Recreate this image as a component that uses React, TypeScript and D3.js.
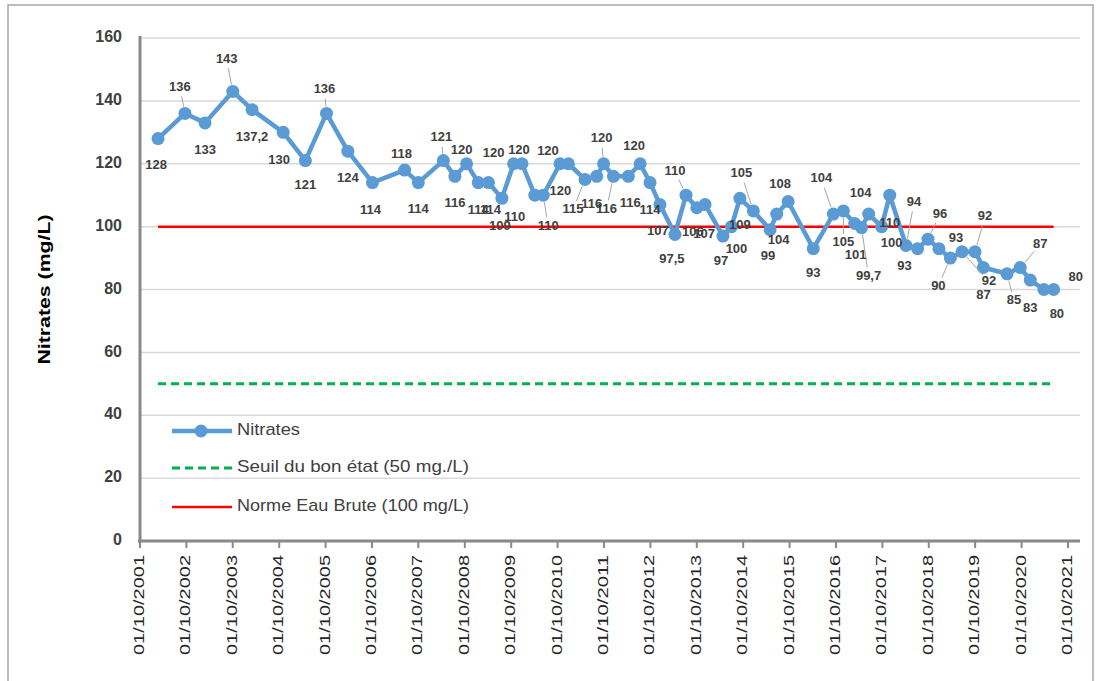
import React from 'react';
import * as d3 from 'd3';

// sampling dates (yyyy-mm-dd) and nitrate values
const dates = [
  '2002-02-20', '2002-09-20', '2003-02-25', '2003-10-01', '2004-03-01', '2004-11-01', '2005-04-25', '2005-10-08',
  '2006-03-25', '2006-10-05', '2007-06-15', '2007-10-01', '2008-04-15', '2008-07-15', '2008-10-15', '2009-01-15',
  '2009-04-05', '2009-07-20', '2009-10-20', '2009-12-25', '2010-04-05', '2010-06-10', '2010-10-20', '2010-12-25',
  '2011-05-05', '2011-08-05', '2011-09-28', '2011-12-15', '2012-04-10', '2012-07-12', '2012-09-28', '2012-12-15',
  '2013-04-12', '2013-07-08', '2013-10-01', '2013-12-05', '2014-04-25', '2014-07-01', '2014-09-05', '2014-12-20',
  '2015-05-01', '2015-06-22', '2015-09-20', '2016-04-05', '2016-09-10', '2016-11-28', '2017-02-25', '2017-04-20',
  '2017-06-15', '2017-09-25', '2017-11-28', '2018-04-05', '2018-07-05', '2018-09-25', '2018-12-20', '2019-03-20',
  '2019-06-20', '2019-09-30', '2019-12-05', '2020-06-08', '2020-09-20', '2020-12-08', '2021-03-25', '2021-06-10',
];

const nitrates = [
  128, 136, 133, 143, 137.2, 130, 121, 136,
  124, 114, 118, 114, 121, 116, 120, 114,
  114, 109, 120, 120, 110, 110, 120, 120,
  115, 116, 120, 116, 116, 120, 114, 107,
  97.5, 110, 106, 107, 97, 100, 109, 105,
  99, 104, 108, 93, 104, 105, 101, 99.7,
  104, 100, 110, 94, 93, 96, 93, 90,
  92, 92, 87, 85, 87, 83, 80, 80,
];

const seuilBonEtat = 50;
const normeEauBrute = 100;

const yTicks = [0, 20, 40, 60, 80, 100, 120, 140, 160];
const xTickYears = d3.range(2001, 2022);

// where each data label sits relative to its point (as moved by hand in the original)
const labelOffsets: [number, number][] = [
  [-2, 27], [-5, -26], [0, 28], [-6, -32], [0, 28], [-4, 28], [0, 25], [-2, -24],
  [0, 27], [-2, 28], [-3, -15], [0, 27], [-2, -23], [0, 27], [-5, -13], [0, 28],
  [2, 28], [-2, 28], [-20, -10], [-3, -13], [-20, 22], [5, 31], [-12, -12], [-8, 28],
  [-12, 30], [-5, 28], [-2, -25], [-7, 33], [2, 27], [-6, -17], [0, 28], [-2, 27],
  [-3, 25], [-11, -24], [-4, 25], [-1, 30], [-2, 26], [5, 23], [0, 27], [-12, -37],
  [-2, 27], [2, 27], [-8, -17], [0, 25], [-12, -35], [0, 32], [1, 32], [7, 49],
  [-8, -20], [10, 17], [0, 28], [8, -43], [-13, 18], [12, -25], [17, -10], [-12, 28],
  [27, 30], [10, -35], [0, 28], [7, 27], [20, -23], [0, 28], [13, 25], [22, -12],
];
const leaders = [1, 3, 7, 12, 21, 24, 26, 27, 33, 39, 44, 45, 47, 51, 53, 55, 56, 57, 59, 60];

const parse = d3.timeParse('%Y-%m-%d');

const App: React.FC = () => {
  const width = 1101;
  const height = 681;
  const left = 140;
  const plotRight = 1080;

  const x = d3.scaleTime()
    .domain([new Date(2001, 9, 1), new Date(2021, 9, 1)])
    .range([left, 1068]);
  const y = d3.scaleLinear().domain([0, 160]).range([541, 38]);

  const points = dates.map((d, i) => ({ date: parse(d) as Date, value: nitrates[i] }));
  const first = points[0].date;
  const last = points[points.length - 1].date;

  const line = d3.line<{ date: Date; value: number }>()
    .x(d => x(d.date))
    .y(d => y(d.value));

  const fmt = (v: number) => String(v).replace('.', ',');
  const font = '"Liberation Sans", Arial, sans-serif';

  return (
    <svg width={width} height={height} style={{ position: 'absolute', left: 0, top: 0, background: '#fff' }} fontFamily={font}>
      <rect x={8} y={5} width={1085} height={700} fill="#fff" stroke="#a6a6a6" strokeWidth={1.5} />

      {/* grid */}
      {yTicks.filter(t => t > 0).map(t => (
        <line key={t} x1={left} x2={plotRight} y1={y(t)} y2={y(t)} stroke="#d9d9d9" strokeWidth={1.5} />
      ))}

      {/* y tick labels */}
      {yTicks.map(t => (
        <text key={t} x={122} y={y(t)} textAnchor="end" dominantBaseline="middle" fontSize={16} fontWeight="bold" fill="#404040">
          {t}
        </text>
      ))}
      <text transform={`translate(46,${y(80)}) rotate(-90)`} textAnchor="middle" dominantBaseline="middle" fontSize={16} fontWeight="bold" fill="#000" textLength={150} lengthAdjust="spacingAndGlyphs">
        Nitrates (mg/L)
      </text>

      {/* reference lines */}
      <line x1={x(first)} x2={x(last)} y1={y(normeEauBrute)} y2={y(normeEauBrute)} stroke="#ff0000" strokeWidth={2.5} />
      <line x1={x(first)} x2={x(last)} y1={y(seuilBonEtat)} y2={y(seuilBonEtat)} stroke="#00b050" strokeWidth={3} strokeDasharray="8,5" />

      {/* axes */}
      <line x1={left} x2={left} y1={36} y2={543} stroke="#898989" strokeWidth={3} />
      <line x1={left - 2} x2={plotRight} y1={541} y2={541} stroke="#898989" strokeWidth={3} />
      {xTickYears.map(yr => {
        const xp = x(new Date(yr, 9, 1));
        return (
          <g key={yr}>
            <line x1={xp} x2={xp} y1={541} y2={548} stroke="#898989" strokeWidth={2} />
            <text transform={`translate(${xp},555) rotate(-90)`} textAnchor="end" dominantBaseline="middle" fontSize={15} fill="#262626" textLength={100} lengthAdjust="spacingAndGlyphs">
              {`01/10/${yr}`}
            </text>
          </g>
        );
      })}

      {/* nitrates series */}
      <path d={line(points) || ''} fill="none" stroke="#5b9bd5" strokeWidth={4.5} strokeLinejoin="round" />
      {points.map((p, i) => (
        <circle key={i} cx={x(p.date)} cy={y(p.value)} r={6.5} fill="#5b9bd5" />
      ))}

      {/* leader lines */}
      {leaders.map(i => {
        const px = x(points[i].date);
        const py = y(points[i].value);
        const [dx, dy] = labelOffsets[i];
        const len = Math.hypot(dx, dy);
        const ux = dx / len;
        const uy = dy / len;
        return (
          <line key={i} x1={px + ux * 7} y1={py + uy * 7} x2={px + dx - ux * 9} y2={py + dy - uy * 9} stroke="#a6a6a6" strokeWidth={1} />
        );
      })}

      {/* data labels */}
      {points.map((p, i) => (
        <text key={i} x={x(p.date) + labelOffsets[i][0]} y={y(p.value) + labelOffsets[i][1]} textAnchor="middle" dominantBaseline="middle" fontSize={13} fontWeight="bold" fill="#404040">
          {fmt(p.value)}
        </text>
      ))}

      {/* legend */}
      <g fontSize={17} fill="#404040">
        <line x1={172} x2={232} y1={431} y2={431} stroke="#5b9bd5" strokeWidth={4.5} />
        <circle cx={201} cy={431} r={6.5} fill="#5b9bd5" />
        <text x={237} y={431} dominantBaseline="middle" textLength={63} lengthAdjust="spacingAndGlyphs">Nitrates</text>
        <line x1={172} x2={232} y1={468} y2={468} stroke="#00b050" strokeWidth={3} strokeDasharray="8,5" />
        <text x={237} y={468} dominantBaseline="middle" textLength={232} lengthAdjust="spacingAndGlyphs">Seuil du bon état (50 mg./L)</text>
        <line x1={172} x2={232} y1={507} y2={507} stroke="#ff0000" strokeWidth={2.5} />
        <text x={237} y={507} dominantBaseline="middle" textLength={232} lengthAdjust="spacingAndGlyphs">Norme Eau Brute (100 mg/L)</text>
      </g>
    </svg>
  );
};

export default App;
